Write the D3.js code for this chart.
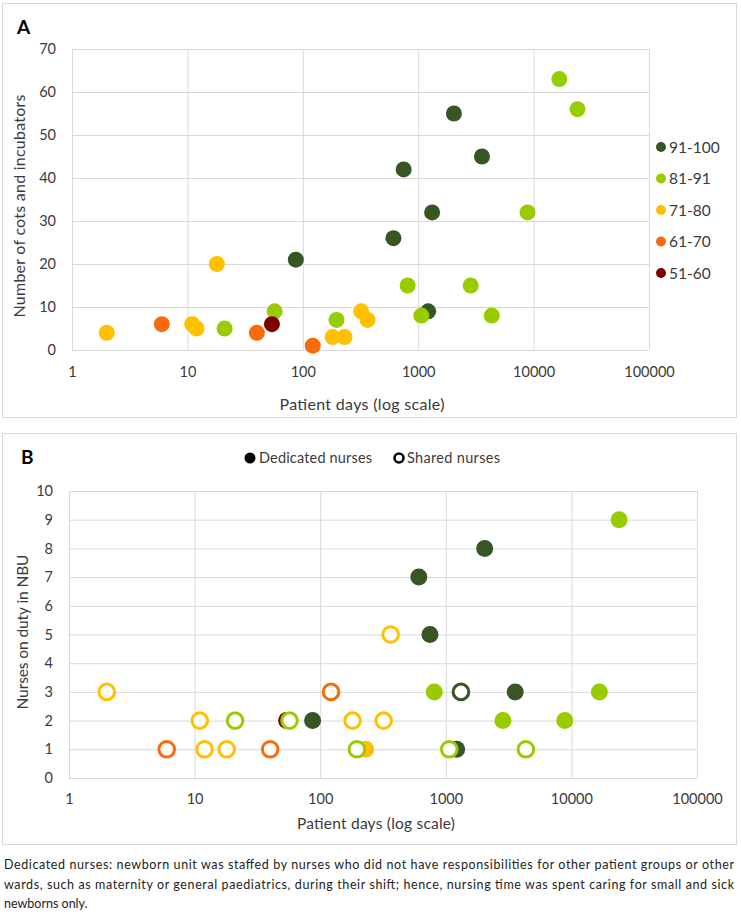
<!DOCTYPE html>
<html><head><meta charset="utf-8">
<script src="https://cdn.jsdelivr.net/npm/d3@7"></script>
<style>
body{margin:0;background:#fff;}
svg{display:block;font-family:Lato,'Open Sans',sans-serif;}
</style>
</head><body>
<svg id="c" width="741" height="919"></svg>
<script>
// ---- data ----
const groups = ["91-100", "81-91", "71-80", "61-70", "51-60"];
const groupColors = ["#375623", "#99CC00", "#FFC000", "#FA6A0A", "#800000"];
const patientDays = [87, 610, 748, 1220, 1320, 2040, 3570,
  21, 57, 196, 810, 1065, 2850, 4340, 8860, 16700, 24000,
  2, 11, 12, 18, 181, 230, 320, 364,
  6, 40, 122,
  54];
const cots = [21, 26, 42, 9, 32, 55, 45,
  5, 9, 7, 15, 8, 15, 8, 32, 63, 56,
  4, 6, 5, 20, 3, 3, 9, 7,
  6, 4, 1,
  6];
const nurses = [2, 7, 5, 1, 3, 8, 3,
  2, 2, 1, 3, 1, 2, 1, 2, 3, 9,
  3, 2, 1, 1, 2, 1, 2, 5,
  1, 1, 3,
  2];
const scoreGroup = ["91-100","91-100","91-100","91-100","91-100","91-100","91-100",
  "81-91","81-91","81-91","81-91","81-91","81-91","81-91","81-91","81-91","81-91",
  "71-80","71-80","71-80","71-80","71-80","71-80","71-80","71-80",
  "61-70","61-70","61-70",
  "51-60"];
const staffing = ["D","D","D","D","S","D","D",
  "S","S","S","D","S","D","S","D","D","D",
  "S","S","S","S","S","D","S","S",
  "S","S","S",
  "D"];
const xTicks = [1, 10, 100, 1000, 10000, 100000];
const cotTicks = [0, 10, 20, 30, 40, 50, 60, 70];
const nurseTicks = [0, 1, 2, 3, 4, 5, 6, 7, 8, 9, 10];
const staffLabels = ["Dedicated nurses", "Shared nurses"];
const footnote = [
  "Dedicated nurses: newborn unit was staffed by nurses who did not have responsibilities for other patient groups or other",
  "wards, such as maternity or general paediatrics, during their shift; hence, nursing time was spent caring for small and sick",
  "newborns only."
];

// ---- build ----
const facilities = patientDays.map((d, i) => ({days: d, cots: cots[i], nurses: nurses[i], group: scoreGroup[i], staff: staffing[i]}));
const color = d3.scaleOrdinal().domain(groups).range(groupColors);
const svg = d3.select("#c");
const grid = "#D9D9D9";
const fs = 14.5;
const txt = "#3a3a3a";

// panel borders
svg.append("rect").attr("x", 2.5).attr("y", 3.5).attr("width", 734).attr("height", 414)
  .attr("fill", "none").attr("stroke", "#D9D9D9");
svg.append("rect").attr("x", 2.5).attr("y", 433.5).attr("width", 734).attr("height", 411)
  .attr("fill", "none").attr("stroke", "#D9D9D9");

function panel(o) {
  const x = d3.scaleLog().domain([1, 100000]).range([o.left, o.right]);
  const y = d3.scaleLinear().domain([0, o.ymax]).range([o.bottom, o.top]);
  const gx = svg.append("g").attr("transform", `translate(0,${o.bottom})`)
    .call(d3.axisBottom(x).tickValues(xTicks).tickFormat(d3.format("d"))
      .tickSize(-(o.bottom - o.top)).tickPadding(o.xpad));
  const gy = svg.append("g").attr("transform", `translate(${o.left},0)`)
    .call(d3.axisLeft(y).tickValues(o.yTicks).tickFormat(d3.format("d"))
      .tickSize(-(o.right - o.left)).tickPadding(16));
  [gx, gy].forEach(g => {
    g.select(".domain").remove();
    g.selectAll("line").attr("stroke", grid).attr("stroke-width", 1);
    g.selectAll("text").attr("font-size", fs).attr("fill", txt).attr("font-family", "Lato,'Open Sans',sans-serif");
  });
  // axis titles
  svg.append("text").attr("x", o.xTitleX).attr("y", o.xTitleY).attr("text-anchor", "middle")
    .attr("font-size", o.tfs).attr("fill", txt).attr("textLength", o.xTitleLen).attr("lengthAdjust", "spacing")
    .text("Patient days (log scale)");
  svg.append("text").attr("transform", `translate(${o.yTitleX},${o.yTitleY}) rotate(-90)`)
    .attr("text-anchor", "middle").attr("font-size", o.tfs).attr("fill", txt)
    .attr("textLength", o.yTitleLen).attr("lengthAdjust", "spacing").text(o.yTitle);
  svg.append("text").attr("x", o.labelX).attr("y", o.labelY).attr("font-size", 19)
    .attr("font-weight", "bold").attr("fill", "#000").text(o.label);
  return {x, y};
}

// Panel A
const A = panel({left: 72, right: 649, top: 49, bottom: 350, ymax: 70, yTicks: cotTicks, xpad: 17, tfs: 16,
  xTitleX: 362, xTitleY: 410, xTitleLen: 165, yTitleX: 25, yTitleY: 206, yTitleLen: 223,
  yTitle: "Number of cots and incubators", label: "A", labelX: 17, labelY: 34});
groups.forEach(g => {
  svg.append("g").selectAll("circle").data(facilities.filter(f => f.group === g)).join("circle")
    .attr("cx", d => A.x(d.days)).attr("cy", d => A.y(d.cots)).attr("r", 8)
    .attr("fill", color(g));
});
// Legend A
const legA = svg.append("g");
groups.forEach((g, i) => {
  const yy = 147 + i * 31.5;
  legA.append("circle").attr("cx", 661).attr("cy", yy).attr("r", 5).attr("fill", color(g));
  legA.append("text").attr("x", 669).attr("y", yy).attr("dy", "0.36em").attr("font-size", 15.5)
    .attr("fill", txt).text(g);
});

// Panel B
const B = panel({left: 69, right: 697, top: 491, bottom: 778, ymax: 10, yTicks: nurseTicks, xpad: 16, tfs: 15.5,
  xTitleX: 376, xTitleY: 829, xTitleLen: 158, yTitleX: 28, yTitleY: 632, yTitleLen: 155,
  yTitle: "Nurses on duty in NBU", label: "B", labelX: 21, labelY: 464});
groups.forEach(g => {
  svg.append("g").selectAll("circle").data(facilities.filter(f => f.group === g && f.staff === "D")).join("circle")
    .attr("cx", d => B.x(d.days)).attr("cy", d => B.y(d.nurses)).attr("r", 8.5)
    .attr("fill", color(g));
});
groups.forEach(g => {
  svg.append("g").selectAll("circle").data(facilities.filter(f => f.group === g && f.staff === "S")).join("circle")
    .attr("cx", d => B.x(d.days)).attr("cy", d => B.y(d.nurses)).attr("r", 7.8)
    .attr("fill", "#fff").attr("stroke", color(g)).attr("stroke-width", 3);
});
// Legend B
const legB = svg.append("g");
legB.append("circle").attr("cx", 250).attr("cy", 458).attr("r", 5.5).attr("fill", "#000");
legB.append("text").attr("x", 259).attr("y", 458).attr("dy", "0.36em").attr("font-size", fs).attr("fill", txt)
  .attr("textLength", 113).attr("lengthAdjust", "spacing").text(staffLabels[0]);
legB.append("circle").attr("cx", 399).attr("cy", 458).attr("r", 4.5).attr("fill", "#fff").attr("stroke", "#000").attr("stroke-width", 2.5);
legB.append("text").attr("x", 407).attr("y", 458).attr("dy", "0.36em").attr("font-size", fs).attr("fill", txt)
  .attr("textLength", 93).attr("lengthAdjust", "spacing").text(staffLabels[1]);

// Footnote
footnote.forEach((t, i) => {
  const tx = svg.append("text").attr("x", 4).attr("y", 869 + i * 19.6).attr("font-size", 12.5)
    .attr("fill", "#222").text(t);
  if (i < 2) tx.attr("textLength", 730).attr("lengthAdjust", "spacing");
});
</script>
</body></html>
